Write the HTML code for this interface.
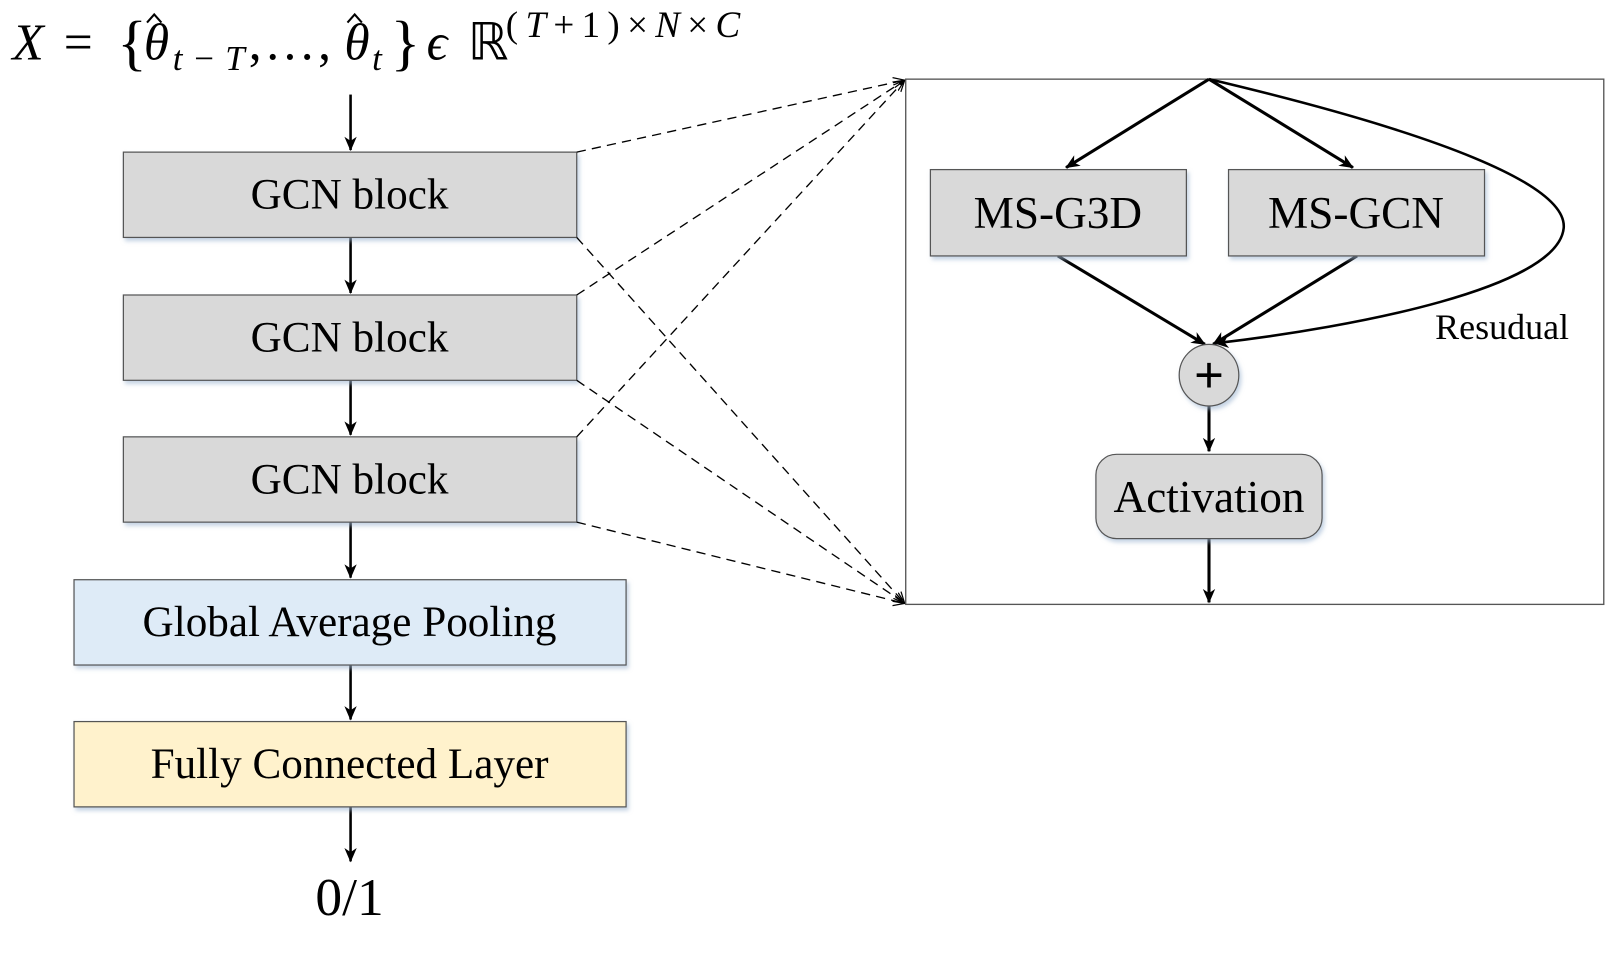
<!DOCTYPE html>
<html><head><meta charset="utf-8"><style>
html,body{margin:0;padding:0;background:#fff}
svg{display:block}
text{font-family:"Liberation Serif",serif;fill:#000}
</style></head><body>
<svg width="1612" height="959" viewBox="0 0 1568 933" preserveAspectRatio="none" xmlns="http://www.w3.org/2000/svg">
<defs>
<marker id="a" markerWidth="14" markerHeight="14" refX="13" refY="7" orient="auto" markerUnits="userSpaceOnUse"><path d="M0,1 L14,7 L0,13 L4,7 z" fill="#000"/></marker>
<marker id="d" markerWidth="12" markerHeight="12" refX="11" refY="6" orient="auto" markerUnits="userSpaceOnUse"><path d="M0,1 L11,6 L0,11" fill="none" stroke="#000" stroke-width="1.2"/></marker>
<filter id="s" x="-5%" y="-5%" width="115%" height="125%"><feDropShadow dx="2" dy="3" stdDeviation="2" flood-color="#9db5d0" flood-opacity="0.6"/></filter>
</defs>
<g font-size="50">
<text x="12" y="58" font-style="italic">X</text>
<text x="62" y="58">=</text>
<text x="114" y="62" font-size="60">{</text>
<text x="140" y="58" font-style="italic">θ</text>
<path d="M143,22 L150,14 L157,22" stroke="#000" stroke-width="2" fill="none"/>
<text x="168" y="68" font-size="34" font-style="italic" textLength="70">t−T</text>
<text x="242" y="58" textLength="80">, … ,</text>
<text x="335" y="58" font-style="italic">θ</text>
<path d="M338,22 L345,14 L352,22" stroke="#000" stroke-width="2" fill="none"/>
<text x="362" y="68" font-size="34" font-style="italic">t</text>
<text x="380" y="62" font-size="60">}</text>
<text x="415" y="58" font-style="italic">ϵ</text>
<text x="455" y="58">ℝ</text>
<text x="492" y="36" font-size="36" textLength="228">(<tspan font-style="italic">T</tspan>+1)×<tspan font-style="italic">N</tspan>×<tspan font-style="italic">C</tspan></text>
</g>
<g stroke="#000" stroke-width="2.5" marker-end="url(#a)">
<line x1="341" y1="92" x2="341" y2="146"/>
<line x1="341" y1="231" x2="341" y2="285"/>
<line x1="341" y1="370" x2="341" y2="423"/>
<line x1="341" y1="508" x2="341" y2="562"/>
<line x1="341" y1="647" x2="341" y2="700"/>
<line x1="341" y1="785" x2="341" y2="838"/>
</g>
<g stroke="#555" stroke-width="1.2" filter="url(#s)">
<rect x="120" y="148" width="441" height="83" fill="#d9d9d9"/>
<rect x="120" y="287" width="441" height="83" fill="#d9d9d9"/>
<rect x="120" y="425" width="441" height="83" fill="#d9d9d9"/>
<rect x="72" y="564" width="537" height="83" fill="#deebf7"/>
<rect x="72" y="702" width="537" height="83" fill="#fff2cc"/>
</g>
<g font-size="42" text-anchor="middle">
<text x="340" y="203">GCN block</text>
<text x="340" y="342">GCN block</text>
<text x="340" y="480">GCN block</text>
<text x="340" y="619">Global Average Pooling</text>
<text x="340" y="757">Fully Connected Layer</text>
<text x="340" y="890" font-size="52">0/1</text>
</g>
<g stroke="#000" stroke-width="1.3" stroke-dasharray="9,6" fill="none" marker-end="url(#d)">
<line x1="561" y1="148" x2="880" y2="78"/>
<line x1="561" y1="287" x2="880" y2="78"/>
<line x1="561" y1="425" x2="880" y2="78"/>
<line x1="561" y1="231" x2="880" y2="587"/>
<line x1="561" y1="370" x2="880" y2="587"/>
<line x1="561" y1="508" x2="880" y2="587"/>
</g>
<rect x="881" y="77" width="679" height="511" fill="none" stroke="#555" stroke-width="1.3"/>
<g stroke="#000" stroke-width="3" fill="none" marker-end="url(#a)">
<line x1="1176" y1="77" x2="1037" y2="163"/>
<line x1="1176" y1="77" x2="1316" y2="163"/>
<line x1="1029" y1="249" x2="1172" y2="335"/>
<line x1="1320" y1="249" x2="1180" y2="335"/>
<path d="M1176,77 C1400,130 1525,180 1521,222 C1515,280 1320,318 1182,334" stroke-width="2.5"/>
<line x1="1176" y1="395" x2="1176" y2="439"/>
<line x1="1176" y1="524" x2="1176" y2="586"/>
</g>
<g stroke="#555" stroke-width="1.2" filter="url(#s)">
<rect x="905" y="165" width="249" height="84" fill="#d9d9d9"/>
<rect x="1195" y="165" width="249" height="84" fill="#d9d9d9"/>
<ellipse cx="1176" cy="365" rx="29" ry="30" fill="#d9d9d9"/>
<rect x="1066" y="442" width="220" height="82" rx="20" fill="#d9d9d9"/>
</g>
<g font-size="44" text-anchor="middle">
<text x="1029" y="222">MS-G3D</text>
<text x="1319" y="222">MS-GCN</text>
<text x="1176" y="498">Activation</text>
</g>
<path d="M1164,365 H1188 M1176,353 V377" stroke="#000" stroke-width="3.5"/>
<text x="1396" y="330" font-size="35">Resudual</text>
</svg>
</body></html>
